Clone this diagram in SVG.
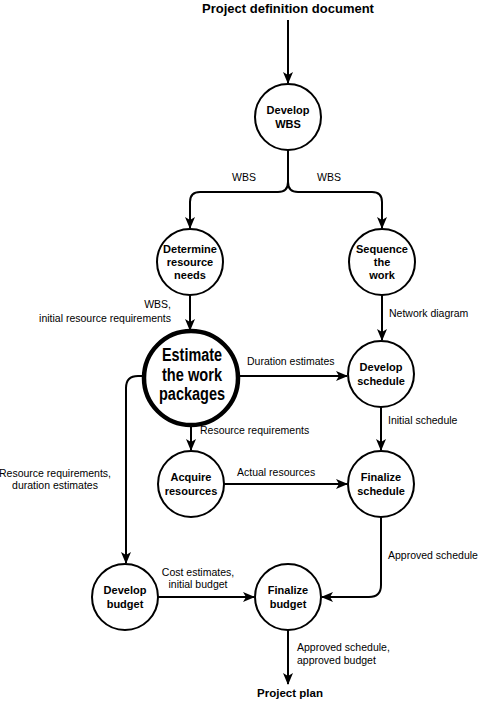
<svg xmlns="http://www.w3.org/2000/svg" width="480" height="702" viewBox="0 0 480 702">
<defs>
<marker id="ah" viewBox="0 0 12 10" refX="11" refY="5" markerWidth="12" markerHeight="10" markerUnits="userSpaceOnUse" orient="auto">
<path d="M0,0 L12,5 L0,10 L3,5 z" fill="#000"/>
</marker>
<style>
.n{fill:#fff;stroke:#000;stroke-width:2}
.nt{font-family:"Liberation Sans",Arial,sans-serif;font-size:11px;font-weight:bold;text-anchor:middle;fill:#000}
.big{font-family:"Liberation Sans Narrow","Liberation Sans",Arial,sans-serif;font-size:18px;font-weight:bold;text-anchor:middle;fill:#000}
.lb{font-family:"Liberation Sans",Arial,sans-serif;font-size:10.5px;fill:#000}
.tt{font-family:"Liberation Sans",Arial,sans-serif;font-size:13px;font-weight:bold;text-anchor:middle;fill:#000}
.c{fill:none;stroke:#000;stroke-width:2}
.a{fill:none;stroke:#000;stroke-width:2;marker-end:url(#ah)}
</style>
</defs>
<rect width="480" height="702" fill="#fff"/>
<g id="connectors">
<path class="a" d="M288,20 V83"/>
<path class="c" d="M288,150 V182 Q288,192 278,192 H200 Q190,192 190,202 V228"/>
<path class="a" d="M190,202 V228"/>
<path class="c" d="M288,182 Q288,192 298,192 H372 Q382,192 382,202 V228"/>
<path class="a" d="M382,202 V228"/>
<path class="a" d="M190,295 V330"/>
<path class="a" d="M382,295 V340"/>
<path class="a" d="M239,376 H347"/>
<path class="a" d="M381,407 V450"/>
<path class="a" d="M191,426 V450"/>
<path class="a" d="M224,484 H347"/>
<path class="c" d="M145,376 H138 Q126,376 126,388 V540"/>
<path class="a" d="M126,530 V563"/>
<path class="a" d="M158,597 H254"/>
<path class="c" d="M381,517 V585 Q381,597 369,597 H330"/>
<path class="a" d="M335,597 H322"/>
<path class="a" d="M288,630 V684"/>
</g>
<text class="tt" x="288" y="13">Project definition document</text>
<g id="develop-wbs">
<circle class="n" cx="288" cy="117" r="33"/>
<text class="nt" x="288" y="114">Develop</text>
<text class="nt" x="288" y="128">WBS</text>
</g>
<g id="determine">
<circle class="n" cx="190" cy="262" r="33"/>
<text class="nt" x="190" y="253">Determine</text>
<text class="nt" x="190" y="266">resource</text>
<text class="nt" x="190" y="279">needs</text>
</g>
<g id="sequence">
<circle class="n" cx="382" cy="262" r="33"/>
<text class="nt" x="382" y="253">Sequence</text>
<text class="nt" x="382" y="266">the</text>
<text class="nt" x="382" y="279">work</text>
</g>
<g id="estimate">
<circle cx="191" cy="378" r="47" fill="#fff" stroke="#000" stroke-width="4.5"/>
<text class="big" x="192" y="361" textLength="60" lengthAdjust="spacingAndGlyphs">Estimate</text>
<text class="big" x="192" y="381" textLength="60" lengthAdjust="spacingAndGlyphs">the work</text>
<text class="big" x="192" y="400" textLength="66" lengthAdjust="spacingAndGlyphs">packages</text>
</g>
<g id="develop-schedule">
<circle class="n" cx="381" cy="374" r="33"/>
<text class="nt" x="381" y="371">Develop</text>
<text class="nt" x="381" y="385">schedule</text>
</g>
<g id="acquire">
<circle class="n" cx="191" cy="484" r="33"/>
<text class="nt" x="191" y="481">Acquire</text>
<text class="nt" x="191" y="495">resources</text>
</g>
<g id="finalize-schedule">
<circle class="n" cx="381" cy="484" r="33"/>
<text class="nt" x="381" y="481">Finalize</text>
<text class="nt" x="381" y="495">schedule</text>
</g>
<g id="develop-budget">
<circle class="n" cx="125" cy="597" r="33"/>
<text class="nt" x="125" y="594">Develop</text>
<text class="nt" x="125" y="608">budget</text>
</g>
<g id="finalize-budget">
<circle class="n" cx="288" cy="597" r="33"/>
<text class="nt" x="288" y="594">Finalize</text>
<text class="nt" x="288" y="608">budget</text>
</g>
<text class="tt" x="290" y="697" style="font-size:11.5px">Project plan</text>
<g id="labels">
<text class="lb" x="244" y="181" text-anchor="middle">WBS</text>
<text class="lb" x="329" y="181" text-anchor="middle">WBS</text>
<text class="lb" x="171" y="308" text-anchor="end">WBS,</text>
<text class="lb" x="171" y="322" text-anchor="end">initial resource requirements</text>
<text class="lb" x="389" y="317">Network diagram</text>
<text class="lb" x="247" y="365">Duration estimates</text>
<text class="lb" x="388" y="424">Initial schedule</text>
<text class="lb" x="200" y="434">Resource requirements</text>
<text class="lb" x="237" y="476">Actual resources</text>
<text class="lb" x="55" y="477" text-anchor="middle">Resource requirements,</text>
<text class="lb" x="55" y="489" text-anchor="middle">duration estimates</text>
<text class="lb" x="388" y="559">Approved schedule</text>
<text class="lb" x="198" y="576" text-anchor="middle">Cost estimates,</text>
<text class="lb" x="198" y="588" text-anchor="middle">initial budget</text>
<text class="lb" x="297" y="651">Approved schedule,</text>
<text class="lb" x="297" y="664">approved budget</text>
</g>
</svg>
